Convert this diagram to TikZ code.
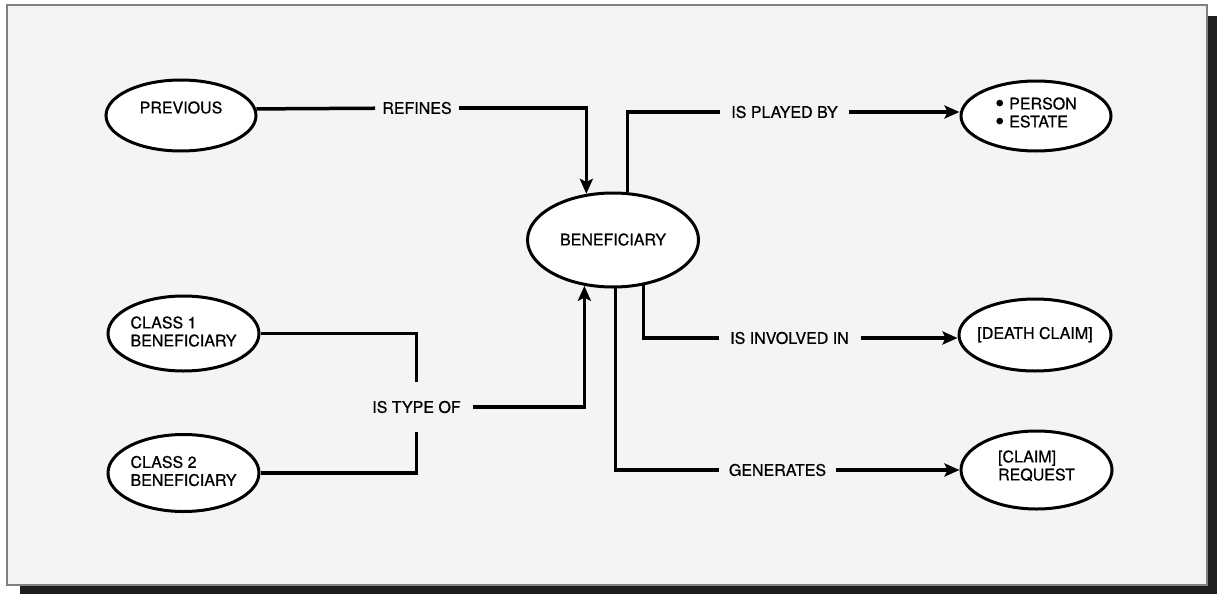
\documentclass[tikz,border=0pt]{standalone}
\usepackage{fontspec}
\setmainfont{TeX Gyre Heros}[BoldFont={TeX Gyre Heros}, BoldFeatures={FakeBold=0.7}]
\usepackage{graphicx}
\usetikzlibrary{shapes.geometric,arrows.meta}
% zero-size text block; #1 = upward shift (pt) of the visual centre of the text
\newcommand{\entxt}[2][0]{\makebox[0pt][c]{\raisebox{\dimexpr#1pt-6.1pt\relax}[0pt][0pt]{\begin{tabular}{@{}l@{}}#2\end{tabular}}}}
\newcommand{\blt}{\raisebox{-2.5pt}{\scalebox{1.6}{\textbullet}}\hspace{5pt}}
\definecolor{paper}{gray}{0.955}
\definecolor{shadowc}{gray}{0.12}
\begin{document}
\begin{tikzpicture}[x=1pt,y=-1pt,
  font=\fontsize{16}{18}\selectfont\bfseries,
  ent/.style={ellipse, draw, fill=white, line width=3pt, inner sep=0pt},
  lab/.style={inner ysep=0pt, inner xsep=#1},
  conn/.style={line width=3.5pt},
  arr/.style={conn, -{Stealth[length=15pt,width=13pt,inset=3pt]}}]
\useasboundingbox (0,0) rectangle (1217,594);
% frame and drop shadow
\fill[shadowc] (20,16) rectangle (1217,594);
\filldraw[fill=paper, draw=gray, line width=1.2pt] (7,5) rectangle (1207,585);

% entities
\node[ent, minimum width=150pt, minimum height=71pt] (prev) at (181,115.5) {\entxt[7.5]{PREVIOUS}};
\node[ent, minimum width=171pt, minimum height=94pt] (benef) at (613,240) {\entxt[0]{BENEFICIARY}};
\node[ent, minimum width=150pt, minimum height=70pt] (person) at (1036,116) {\entxt[3]{\blt PERSON\\\blt ESTATE}};
\node[ent, minimum width=151pt, minimum height=75pt] (class1) at (183.5,333.5) {\entxt[1.5]{CLASS 1\\BENEFICIARY}};
\node[ent, minimum width=151pt, minimum height=77pt] (class2) at (183.5,473) {\entxt[1.5]{CLASS 2\\BENEFICIARY}};
\node[ent, minimum width=152pt, minimum height=72pt] (death) at (1035,335) {\entxt[1.5]{[DEATH CLAIM]}};
\node[ent, minimum width=151pt, minimum height=78pt] (claimreq) at (1036.5,470) {\entxt[4]{[CLAIM]\\REQUEST}};

% relationship labels
\node[lab=7pt] (lref) at (417,108) {REFINES};
\node[lab=11.5pt] (lplay) at (784.5,112) {IS PLAYED BY};
\node[inner xsep=12.5pt, inner ysep=19pt] (ltype) at (416.5,407) {IS TYPE OF};
\node[lab=11.5pt] (linv) at (789.5,338) {IS INVOLVED IN};
\node[lab=9.5pt] (lgen) at (777.5,470) {GENERATES};

% connectors
\draw[conn] (prev.5.8) -- (lref);
\draw[arr] (lref) -| (benef.120.1);

\draw[conn] (benef.73.2) |- (lplay);
\draw[arr] (lplay) -- (lplay -| person.west);

\draw[conn] (class1) -| (ltype);
\draw[conn] (class2) -| (ltype);
\draw[arr] (ltype) -| (benef.-122.2);

\draw[conn] (benef.-56.7) |- (linv);
\draw[arr] (linv) -- (linv -| death.west);

\draw[conn] (benef.-87.6) |- (lgen);
\draw[arr] (lgen) -- (lgen -| claimreq.west);
\end{tikzpicture}
\end{document}
